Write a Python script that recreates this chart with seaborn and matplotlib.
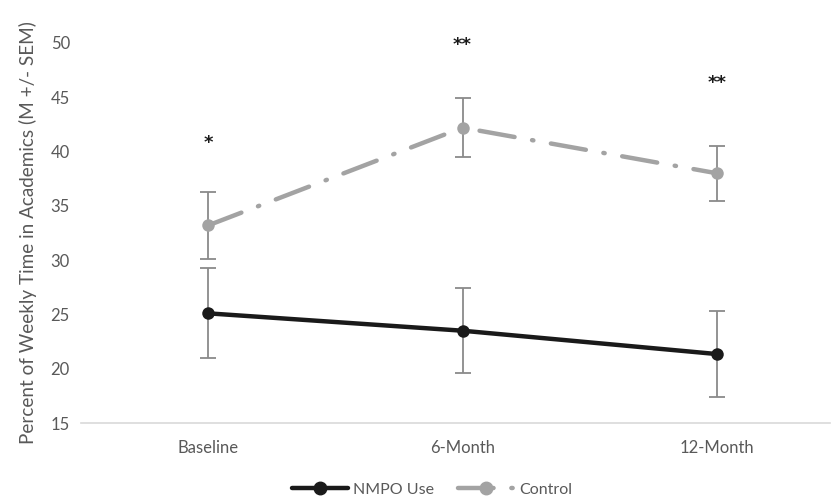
import pandas as pd
import matplotlib.pyplot as plt
import seaborn as sns
from matplotlib.lines import Line2D

# Values
timepoints = ['Baseline', '6-Month', '12-Month']
nmpo_mean = [25.1, 23.5, 21.35]
nmpo_sem = [4.15, 3.9, 3.95]
control_mean = [33.2, 42.2, 38.0]
control_sem = [3.05, 2.7, 2.55]
stars = ['*', '**', '**']
star_y = [40.8, 49.8, 46.3]

groups = ['NMPO Use', 'Control']
colors = {'NMPO Use': '#1a1a1a', 'Control': '#a3a3a3'}
text_gray = '#595959'

df = pd.DataFrame({
    'time': timepoints * 2,
    'x': list(range(len(timepoints))) * 2,
    'group': ['NMPO Use'] * 3 + ['Control'] * 3,
    'mean': nmpo_mean + control_mean,
    'sem': nmpo_sem + control_sem,
})

sns.set_style('white')
plt.rcParams['font.family'] = ['Lato', 'DejaVu Sans']

fig = plt.figure(figsize=(8.31, 4.98), dpi=100)
ax = fig.add_axes([0.0975, 0.1506, 0.9013, 0.7631])

# error bars underneath the lines
for g in groups:
    sub = df[df['group'] == g]
    ax.errorbar(sub['x'], sub['mean'], yerr=sub['sem'], fmt='none',
                ecolor='#8a8a8a', elinewidth=1.3, capsize=6, capthick=1.3, zorder=1)

sns.lineplot(data=df, x='x', y='mean', hue='group', style='group',
             palette=colors, hue_order=groups, style_order=groups,
             dashes={'NMPO Use': '', 'Control': (8, 4, 0.3, 4)},
             markers={'NMPO Use': 'o', 'Control': 'o'},
             markersize=9, markeredgewidth=0, linewidth=3.2,
             legend=False, ax=ax, zorder=3)
for line in ax.get_lines():
    line.set_dash_capstyle('round')

# significance stars above each time point
for i, (s, y) in enumerate(zip(stars, star_y)):
    ax.text(i, y, s, ha='center', va='center', fontsize=13, color='#1a1a1a',
            family='DejaVu Sans', fontweight='bold')

ax.set_xlim(-0.5, 2.445)
ax.set_ylim(15, 50)
ax.set_yticks(range(15, 51, 5))
ax.set_xticks(range(len(timepoints)))
ax.set_xticklabels(timepoints)
ax.tick_params(axis='both', colors=text_gray, labelsize=12, length=0, pad=8)
ax.tick_params(axis='x', pad=12)
ax.set_xlabel('')
ax.set_ylabel('Percent of Weekly Time in Academics (M +/- SEM)', color=text_gray,
              fontsize=13.6, labelpad=10)
for side in ['top', 'right', 'left']:
    ax.spines[side].set_visible(False)
ax.spines['bottom'].set_color('#d9d9d9')
ax.spines['bottom'].set_linewidth(1.2)

handles = [
    Line2D([], [], color=colors['NMPO Use'], lw=3.2, marker='o', markersize=9),
    Line2D([], [], color=colors['Control'], lw=3.2, marker='o', markersize=9,
           dashes=(8, 4, 0.3, 4), dash_capstyle='round'),
]
fig.legend(handles, groups, loc='center', bbox_to_anchor=(0.52, 0.017), ncol=2,
           frameon=False, fontsize=11.5, labelcolor=text_gray, handlelength=3.5,
           handletextpad=0.3, columnspacing=1.5)

fig.savefig('out.png', dpi=100)
